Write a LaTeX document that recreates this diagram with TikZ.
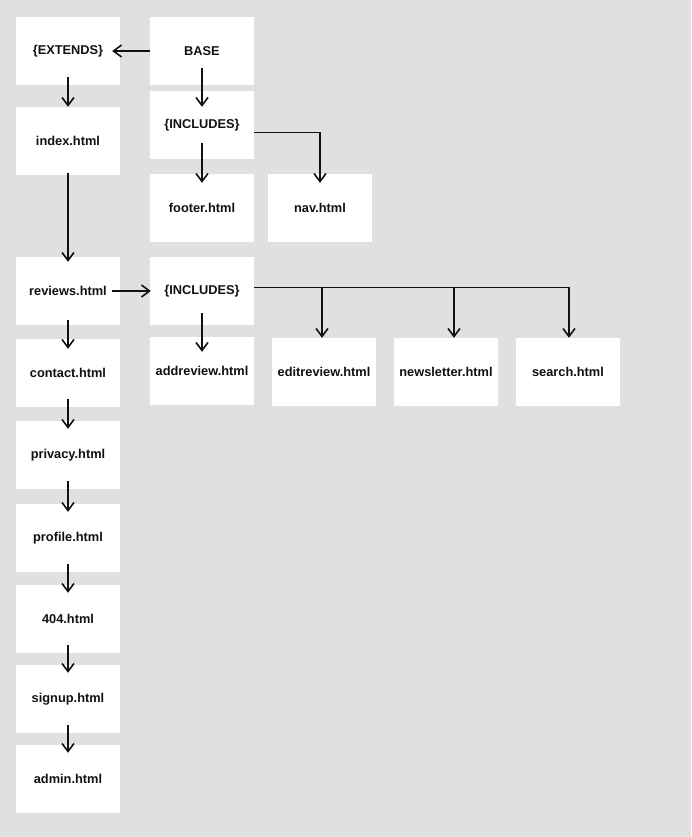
\documentclass[tikz,border=0pt]{standalone}
\usepackage{fontspec}
\setmainfont{Liberation Sans}
\usetikzlibrary{arrows.meta}
\definecolor{canvas}{RGB}{224,224,224}
\definecolor{ink}{RGB}{17,17,17}
\tikzset{
  page/.style={draw=none, fill=white, minimum width=104pt, minimum height=68pt,
    inner sep=0pt, text=ink, font=\fontsize{12.8}{15}\selectfont\bfseries},
  arrow/.style={-{Straight Barb[length=8pt,width=12pt,line width=1.6pt]}, line width=1.7pt, draw=ink},
  chain/.style={arrow, shorten <=-8pt, shorten >=-8pt},
  branch/.style={line width=0.8pt, draw=ink}
}

\begin{document}
\begin{tikzpicture}[x=1pt,y=-1pt]
  \fill[canvas] (0,0) rectangle (691,837);

  % base template
  \node[page] (extends) at (68,51) {\{EXTENDS\}};
  \node[page] (base) at (202,51) {BASE};
  \node[page] (index) at (68,141) {index.html};
  \node[page] (incbase) at (202,125) {\{INCLUDES\}};
  \node[page] (footer) at (202,208) {footer.html};
  \node[page] (nav) at (320,208) {nav.html};

  % reviews and its includes
  \node[page] (reviews) at (68,291) {reviews.html};
  \node[page] (increviews) at (202,291) {\{INCLUDES\}};
  \node[page] (addreview) at (202,371) {addreview.html};
  \node[page] (editreview) at (324,372) {editreview.html};
  \node[page] (newsletter) at (446,372) {newsletter.html};
  \node[page] (search) at (568,372) {search.html};

  % remaining pages
  \node[page] (contact) at (68,373) {contact.html};
  \node[page] (privacy) at (68,455) {privacy.html};
  \node[page] (profile) at (68,538) {profile.html};
  \node[page] (notfound) at (68,619) {404.html};
  \node[page] (signup) at (68,699) {signup.html};
  \node[page] (admin) at (68,779) {admin.html};

  \coordinate (navfork) at (320,132);
  \coordinate (editfork) at (322,287);
  \coordinate (newsfork) at (454,287);
  \coordinate (searchfork) at (569,287);

  \draw[arrow, shorten >=-8pt] (base) -- (extends);
  \draw[arrow, shorten <=-8pt] (extends) -- (index);
  \draw[arrow, shorten <=-17pt, shorten >=-16pt] (base) -- (incbase);
  \draw[arrow, shorten <=-16pt, shorten >=-9pt] (incbase) -- (footer);
  \draw[branch] ([yshift=-7pt]incbase.east) -- (navfork);
  \draw[arrow, shorten >=-9pt] (navfork) -- (navfork |- nav.north);

  \draw[arrow, shorten <=-2pt, shorten >=-5pt] (index) -- (reviews);
  \draw[arrow, shorten <=-8pt, shorten >=-1pt] (reviews) -- (increviews);
  \draw[arrow, shorten <=-12pt, shorten >=-15pt] (increviews) -- (addreview);
  \draw[branch] ([yshift=4pt]increviews.east) -- (searchfork);
  \draw[arrow] (editfork) -- (editfork |- editreview.north);
  \draw[arrow] (newsfork) -- (newsfork |- newsletter.north);
  \draw[arrow] (searchfork) -- (searchfork |- search.north);

  \draw[arrow, shorten <=-5pt, shorten >=-10pt] (reviews) -- (contact);
  \draw[chain] (contact) -- (privacy);
  \draw[chain] (privacy) -- (profile);
  \draw[chain] (profile) -- (notfound);
  \draw[chain] (notfound) -- (signup);
  \draw[chain] (signup) -- (admin);
\end{tikzpicture}
\end{document}
